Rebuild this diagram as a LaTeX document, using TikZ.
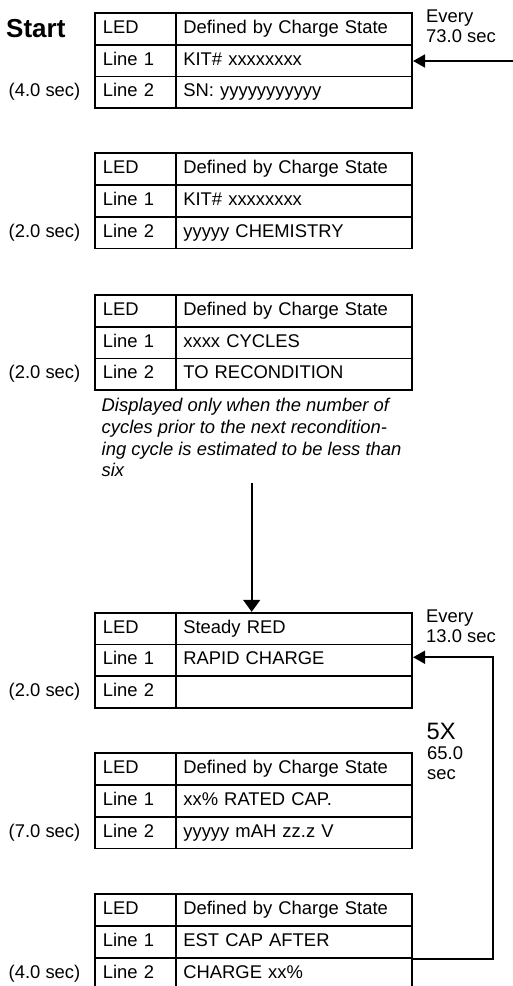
\documentclass[tikz,border=0pt]{standalone}
\usepackage{fontspec}
\setmainfont{Liberation Sans}
\usetikzlibrary{arrows.meta}

\tikzset{
  base font/.style={font=\fontsize{18.4}{20}\selectfont},
  cellL/.style={draw, line width=1.8pt, base font, text width=65pt,
    inner xsep=7.8pt, inner ysep=0pt, minimum height=31.7pt, align=left,
    text height=13.2pt, text depth=4pt},
  cellR/.style={cellL, text width=221pt},
  tlab/.style={base font, anchor=west, inner sep=0pt, text height=13.2pt, text depth=4pt},
  note/.style={base font, anchor=north west, inner sep=0pt, align=left},
  conn/.style={line width=1.8pt, -{Triangle[length=12pt,width=13pt]}},
  vconn/.style={line width=1.8pt, -{Triangle[length=12pt,width=17pt]}},
}

\newcommand\ledtab[6]{%
  \node[cellL] (#1-l1) at (135.35,#2+15.85) {LED};
  \node[cellR] (#1-r1) at (293.85,#2+15.85) {#3};
  \node[cellL] (#1-l2) at (135.35,#2+47.55) {Line 1};
  \node[cellR] (#1-r2) at (293.85,#2+47.55) {#4};
  \node[cellL] (#1-l3) at (135.35,#2+79.25) {Line 2};
  \node[cellR] (#1-r3) at (293.85,#2+79.25) {#5};
  \node[tlab] (#1-t) at (8.5,#2+79.25) {#6};
}

\begin{document}
\begin{tikzpicture}[x=1pt, y=-1pt]
  \useasboundingbox (0,0) rectangle (513,986);
  \clip (0,0) rectangle (513,986);

  \node[font=\fontsize{26}{30}\selectfont\bfseries, anchor=base west, inner sep=0pt] (start) at (6,37.5) {Start};

  \ledtab{t1}{13}{Defined by Charge State}{KIT\# xxxxxxxx}{SN: yyyyyyyyyyy}{(4.0 sec)}
  \ledtab{t2}{153.3}{Defined by Charge State}{KIT\# xxxxxxxx}{yyyyy CHEMISTRY}{(2.0 sec)}
  \ledtab{t3}{295}{Defined by Charge State}{xxxx CYCLES}{TO RECONDITION}{(2.0 sec)}
  \ledtab{t4}{612.7}{Steady RED}{RAPID CHARGE}{}{(2.0 sec)}
  \ledtab{t5}{753.3}{Defined by Charge State}{xx\% RATED CAP.}{yyyyy mAH zz.z V}{(7.0 sec)}
  \ledtab{t6}{894.3}{Defined by Charge State}{EST CAP AFTER}{CHARGE xx\%}{(4.0 sec)}

  \node[note, font=\fontsize{18.4}{21.6}\selectfont\itshape] (cond) at (101.5,398.4)
    {Displayed only when the number of\\cycles prior to the next recondition-\\ing cycle is estimated to be less than\\six};

  \node[note] (every1) at (426,10) {Every\\73.0 sec};
  \node[note] (every2) at (426,610) {Every\\13.0 sec};
  \node[anchor=north west, inner sep=0pt, font=\fontsize{23.7}{26}\selectfont] (five) at (426.5,723) {5X};
  \node[note] (rep) at (427,746.4) {65.0\\sec};

  % entry arrow at top right
  \coordinate (in1) at (513,61);
  \draw[conn] (in1) -- (in1 -| t1-r2.east);

  % vertical arrow into the RAPID CHARGE table
  \coordinate (vstart) at (251.7,483);
  \draw[vconn] (vstart) -- (vstart |- t4-r1.north);

  % repeat loop
  \coordinate (loopx) at (493,800);
  \draw[conn] (t6-r2.south east) -| (loopx) |- ([yshift=3pt]t4-r2.east);
\end{tikzpicture}
\end{document}
